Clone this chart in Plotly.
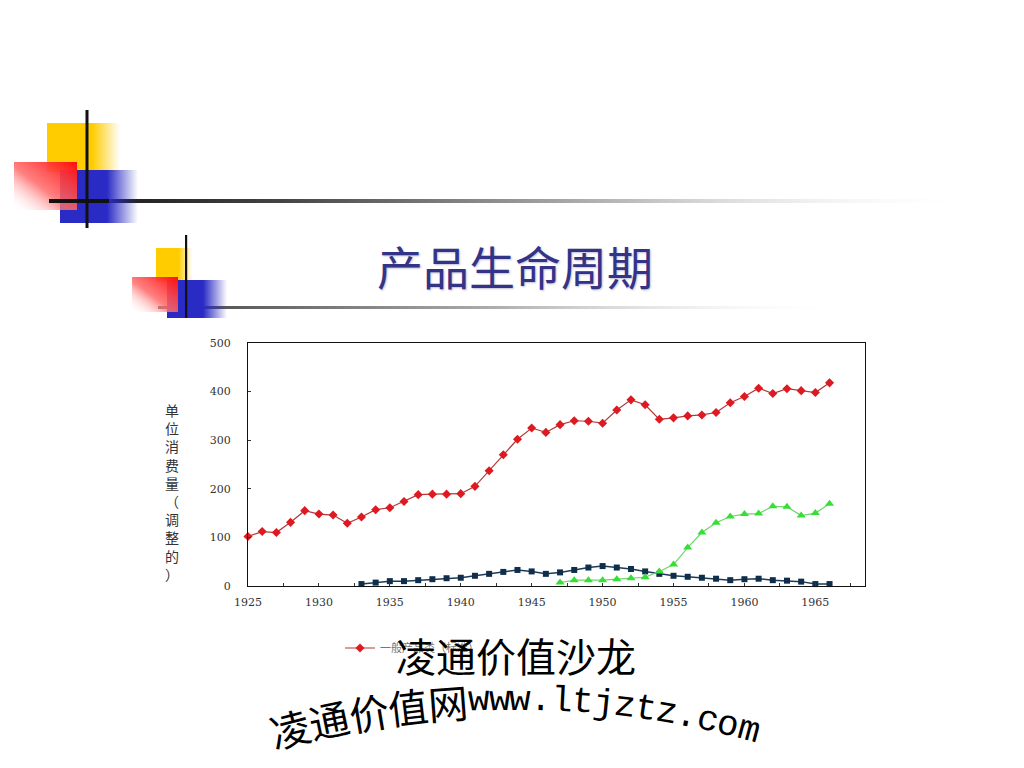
import base64
import math
import plotly.graph_objects as go

# ---------------- data ----------------
years_a = list(range(1925, 1967))
series_a = [102, 112, 110, 131, 155, 148, 146, 129, 142, 157, 161, 174, 188, 189, 189, 190,
            205, 237, 270, 302, 325, 316, 332, 340, 339, 335, 362, 383, 373, 343, 346, 350,
            352, 357, 377, 390, 407, 396, 406, 402, 398, 418]
years_b = list(range(1933, 1967))
series_b = [4, 7, 10, 10, 12, 14, 16, 17, 21, 25, 29, 33, 30, 25, 28, 33, 38, 41, 38, 35,
            30, 25, 21, 19, 17, 15, 12, 14, 15, 12, 11, 9, 4, 4]
years_c = list(range(1947, 1967))
series_c = [7, 12, 12, 12, 14, 16, 18, 30, 44, 79, 110, 130, 143, 148, 149, 164, 163, 145, 150, 169]

x_ticks = [1925, 1930, 1935, 1940, 1945, 1950, 1955, 1960, 1965]
y_ticks = [0, 100, 200, 300, 400, 500]

title_text = "产品生命周期"
y_label = "单位消费量（调整的）"
legend_name = "一般产品类（标准）"
watermark_1 = "凌通价值沙龙"
watermark_2 = "凌通价值网www.ltjztz.com"

# ---------------- geometry helpers (pixel -> paper) ----------------
W, H = 1024, 768
L, R, T, B = 248, 865, 343, 586
PW, PH = R - L, B - T


def px(x):
    return (x - L) / PW


def py(y):
    return (B - y) / PH


fig = go.Figure()

fig.add_trace(go.Scatter(
    x=years_b, y=series_b, mode="lines+markers", name="B", showlegend=False,
    line=dict(color="#1d3b57", width=1.5),
    marker=dict(symbol="square", size=6, color="#0f2e4c"),
    cliponaxis=False))
fig.add_trace(go.Scatter(
    x=years_c, y=series_c, mode="lines+markers", name="C", showlegend=False,
    line=dict(color="#6fd36f", width=1.2),
    marker=dict(symbol="triangle-up", size=8, color="#33e033"),
    cliponaxis=False))
fig.add_trace(go.Scatter(
    x=years_a, y=series_a, mode="lines+markers", name=legend_name, showlegend=True,
    line=dict(color="#b03a3a", width=1.2),
    marker=dict(symbol="diamond", size=7, color="#dd1a22"),
    cliponaxis=False))

# ---------------- decorations as an SVG image ----------------
svg = f'''<svg xmlns="http://www.w3.org/2000/svg" width="{W}" height="{H}" viewBox="0 0 {W} {H}">
<defs>
<linearGradient id="yel" x1="0" y1="0" x2="1" y2="0">
<stop offset="0.62" stop-color="#FFCC00"/><stop offset="1" stop-color="#FFCC00" stop-opacity="0"/></linearGradient>
<linearGradient id="blu" x1="0" y1="0" x2="1" y2="0">
<stop offset="0.6" stop-color="#2a2ac4"/><stop offset="1" stop-color="#2a2ac4" stop-opacity="0"/></linearGradient>
<linearGradient id="red" x1="1" y1="0" x2="0" y2="1">
<stop offset="0" stop-color="#ff0d0d"/><stop offset="0.55" stop-color="#ff6a6a" stop-opacity="0.85"/><stop offset="1" stop-color="#ffffff" stop-opacity="0"/></linearGradient>
<linearGradient id="hl" x1="0" y1="0" x2="1" y2="0">
<stop offset="0" stop-color="#111111"/><stop offset="0.25" stop-color="#444444"/><stop offset="0.62" stop-color="#bbbbbb"/><stop offset="1" stop-color="#ffffff" stop-opacity="0"/></linearGradient>
<linearGradient id="hl2" x1="0" y1="0" x2="1" y2="0">
<stop offset="0" stop-color="#444444"/><stop offset="0.5" stop-color="#b0b0b0"/><stop offset="1" stop-color="#ffffff" stop-opacity="0"/></linearGradient>
</defs>
<rect x="49" y="199" width="930" height="4" fill="url(#hl)"/>
<rect x="47" y="123" width="73" height="49" fill="url(#yel)"/>
<rect x="60" y="170" width="78" height="53" fill="url(#blu)"/>
<rect x="14" y="162" width="63" height="48" fill="url(#red)"/>
<rect x="49" y="199" width="60" height="4" fill="#111111"/>
<rect x="85.5" y="110" width="3" height="118" fill="#111111"/>
<rect x="158" y="306" width="690" height="3" fill="url(#hl2)"/>
<rect x="156" y="248" width="36" height="34" fill="url(#yel)"/>
<rect x="167" y="280" width="60" height="38" fill="url(#blu)"/>
<rect x="132" y="277" width="46" height="35" fill="url(#red)"/>
<rect x="185" y="235" width="2.2" height="83" fill="#111111"/>
</svg>'''
src = "data:image/svg+xml;base64," + base64.b64encode(svg.encode("utf-8")).decode("ascii")

fig.add_layout_image(dict(
    source=src, xref="paper", yref="paper",
    x=px(0), y=py(0), sizex=W / PW, sizey=H / PH,
    xanchor="left", yanchor="top", sizing="stretch", layer="below"))

annotations = []
# title
annotations.append(dict(
    text=title_text, x=px(515), y=py(265), xref="paper", yref="paper",
    showarrow=False, xanchor="center", yanchor="middle",
    font=dict(family="Noto Sans CJK SC", size=46, color="#333388",
              shadow="1px 1px 2px #c0c0d4")))
# vertical y-axis label
annotations.append(dict(
    text="<br>".join(list(y_label)), x=px(172), y=py(492), xref="paper", yref="paper",
    showarrow=False, xanchor="center", yanchor="middle",
    font=dict(family="Noto Sans CJK SC", size=14, color="#333333")))
# watermark 1
annotations.append(dict(
    text=watermark_1, x=px(516), y=py(655), xref="paper", yref="paper",
    showarrow=False, xanchor="center", yanchor="middle",
    font=dict(family="Noto Sans CJK SC", size=40, color="#000000")))

# watermark 2 along an arc
Rarc = 900.0
cx, top_y = 515.0, 700.0
widths = [40 if ord(c) > 255 else 21 for c in watermark_2]
total = sum(widths)
pos = -total / 2.0
for ch, w in zip(watermark_2, widths):
    s = pos + w / 2.0
    pos += w
    th = s / Rarc
    xx = cx + Rarc * math.sin(th)
    yy = top_y + Rarc * (1 - math.cos(th))
    cjk = ord(ch) > 255
    annotations.append(dict(
        text=ch, x=px(xx), y=py(yy), xref="paper", yref="paper",
        showarrow=False, xanchor="center", yanchor="middle",
        textangle=math.degrees(th),
        font=dict(family="Noto Sans CJK SC" if cjk else "Liberation Mono",
                  size=40 if cjk else 36, color="#000000")))

fig.update_layout(
    width=W, height=H, autosize=False,
    margin=dict(l=L, r=W - R, t=T, b=H - B, pad=0),
    paper_bgcolor="white", plot_bgcolor="white",
    annotations=annotations,
    showlegend=True,
    legend=dict(x=px(340), y=py(648), xanchor="left", yanchor="middle",
                orientation="h", bgcolor="rgba(0,0,0,0)", itemwidth=30,
                font=dict(family="Noto Sans CJK SC", size=11, color="#777777")),
    xaxis=dict(range=[1925, 1968.5], tickvals=x_ticks, ticktext=[str(v) for v in x_ticks],
               showgrid=False, zeroline=False, showline=True, linecolor="#111111",
               linewidth=1, mirror=True, ticks="inside", ticklen=3, tickcolor="#333333",
               minor=dict(dtick=2.5, tick0=1925, ticks="inside", ticklen=3, tickcolor="#333333"),
               tickfont=dict(family="DejaVu Serif", size=11, color="#333333"),
               ticklabelstandoff=6),
    yaxis=dict(range=[0, 500], tickvals=y_ticks, showgrid=False, zeroline=False,
               showline=True, linecolor="#111111", linewidth=1, mirror=True,
               ticks="inside", ticklen=3, tickcolor="#333333",
               tickfont=dict(family="DejaVu Serif", size=11, color="#333333"),
               ticklabelstandoff=14),
    font=dict(family="Noto Sans CJK SC"),
)

fig.write_html("out.html", include_plotlyjs=True, config={"displayModeBar": False},
               post_script="document.body.style.margin='0';document.body.style.overflow='hidden';")
